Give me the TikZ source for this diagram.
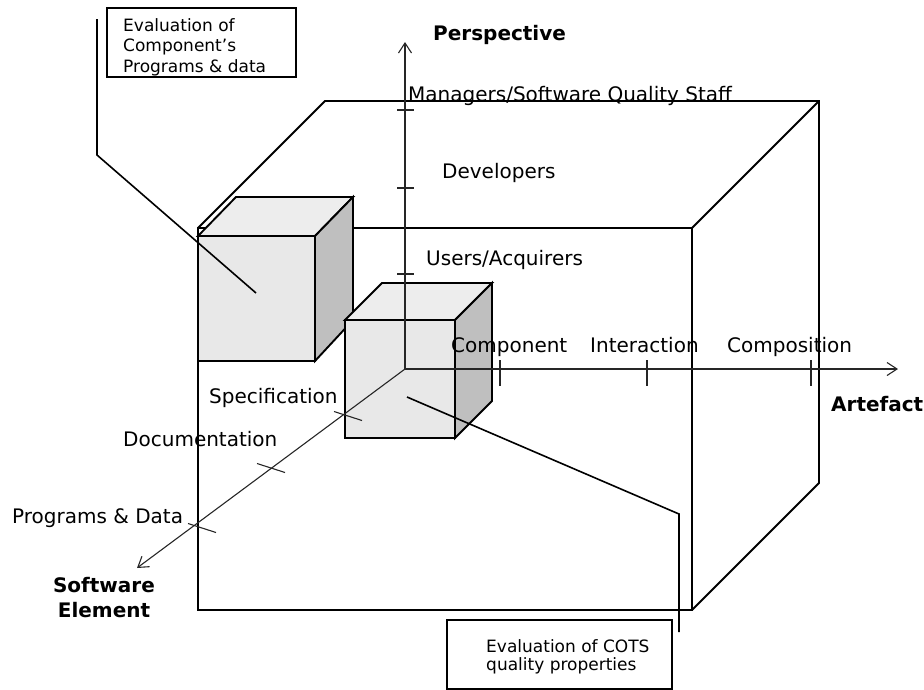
\documentclass[tikz,border=0pt]{standalone}
\usepackage{fontspec}
\setmainfont{DejaVu Sans}
\usetikzlibrary{arrows.meta,positioning}

\begin{document}
\begin{tikzpicture}[x=1pt, y=-1pt, >={Straight Barb[length=10pt,width=13pt]},
    edge/.style={line width=1.9pt, line join=miter},
    frontface/.style={edge, fill=black!9},
    topface/.style={edge, fill=black!7},
    sideface/.style={edge, fill=black!25},
    axis/.style={line width=1.1pt, black!85},
    tick/.style={line width=1.1pt, black!85},
    lbl/.style={inner sep=0pt, font=\fontsize{20}{24}\selectfont},
    axislbl/.style={inner sep=0pt, font=\fontsize{20}{25}\selectfont\bfseries},
    callout/.style={draw, line width=1.8pt, inner sep=0pt},
    callouttext/.style={inner sep=0pt, align=left},
    link/.style={line width=1.6pt}]
    \useasboundingbox (0,0) rectangle (924,689);

    % Outer cube
    \draw[edge] (198,228) rectangle (692,610);
    \draw[edge] (198,228) -- (325,101) -- (819,101) -- (819,483) -- (692,610);
    \draw[edge] (692,228) -- (819,101);

    % Small cube (component programs & data)
    \draw[frontface] (198,236) rectangle (315,361);
    \draw[topface] (198,236) -- (236,197) -- (353,197) -- (315,236) -- cycle;
    \draw[sideface] (315,236) -- (353,197) -- (353,320) -- (315,361) -- cycle;

    % Small cube (COTS quality properties)
    \draw[frontface] (345,320) rectangle (455,438);
    \draw[topface] (345,320) -- (382,283) -- (492,283) -- (455,320) -- cycle;
    \draw[sideface] (455,320) -- (492,283) -- (492,401) -- (455,438) -- cycle;

    % Axes
    \coordinate (O) at (405,369);
    \coordinate (ptop) at (405,42);
    \coordinate (aend) at (898,369);
    \coordinate (send) at (137,568);
    \draw[axis,->] (O) -- (ptop);
    \draw[axis,->] (O) -- (aend);
    \draw[axis,->] (O) -- (send);

    % ticks
    \foreach \y in {110,188,274}
        \draw[tick] (397,\y) -- (414,\y);
    \foreach \x in {500,647,811}
        \draw[tick] (\x,360) -- (\x,386);
    \foreach \x/\y in {348/416,271/468,202/528}
        \draw[tick] (\x-14,\y-4.5) -- (\x+14,\y+4.5);

    % Labels on the axes
    \node[lbl, anchor=base west] (managers) at (408,101) {Managers/Software Quality Staff};
    \node[lbl, anchor=base west] (developers) at (442,178) {Developers};
    \node[lbl, anchor=base west] (users) at (426,265) {Users/Acquirers};
    \node[lbl, anchor=base west] (component) at (451,352) {Component};
    \node[lbl, anchor=base west] (interaction) at (590,352) {Interaction};
    \node[lbl, anchor=base west] (composition) at (727,352) {Composition};
    \node[lbl, anchor=base west] (specification) at (209,403) {Specification};
    \node[lbl, anchor=base west] (documentation) at (123,446) {Documentation};
    \node[lbl, anchor=base west] (programs) at (12,523) {Programs \& Data};

    \node[axislbl, anchor=base west] (perspective) at (433,40) {Perspective};
    \node[axislbl, anchor=base west] (artefact) at (831,411) {Artefact};
    \node[axislbl, anchor=north, align=center] (softelem) at (104,577) {Software\\Element};

    % Callouts
    \node[callout, minimum width=189pt, minimum height=69pt, anchor=north west] (evalcomp) at (106,7) {};
    \node[callouttext, font=\fontsize{17}{20.5}\selectfont, below right=11pt and 17pt of evalcomp.north west] (evalcomptext)
        {Evaluation of\\Component’s\\Programs \& data};
    \coordinate (c1top) at (97,19);
    \coordinate (c1bend) at (97,155);
    \coordinate (c1end) at (256,293);
    \draw[link] (c1top) -- (c1bend) -- (c1end);

    \node[callout, minimum width=225pt, minimum height=69pt, anchor=north west] (evalcots) at (446,619) {};
    \node[callouttext, font=\fontsize{17}{18}\selectfont, below right=20pt and 40pt of evalcots.north west] (evalcotstext)
        {Evaluation of COTS\\quality properties};
    \coordinate (c2start) at (407,397);
    \coordinate (c2bend) at (679,514);
    \coordinate (c2end) at (679,632);
    \draw[link] (c2start) -- (c2bend) -- (c2end);
\end{tikzpicture}
\end{document}
